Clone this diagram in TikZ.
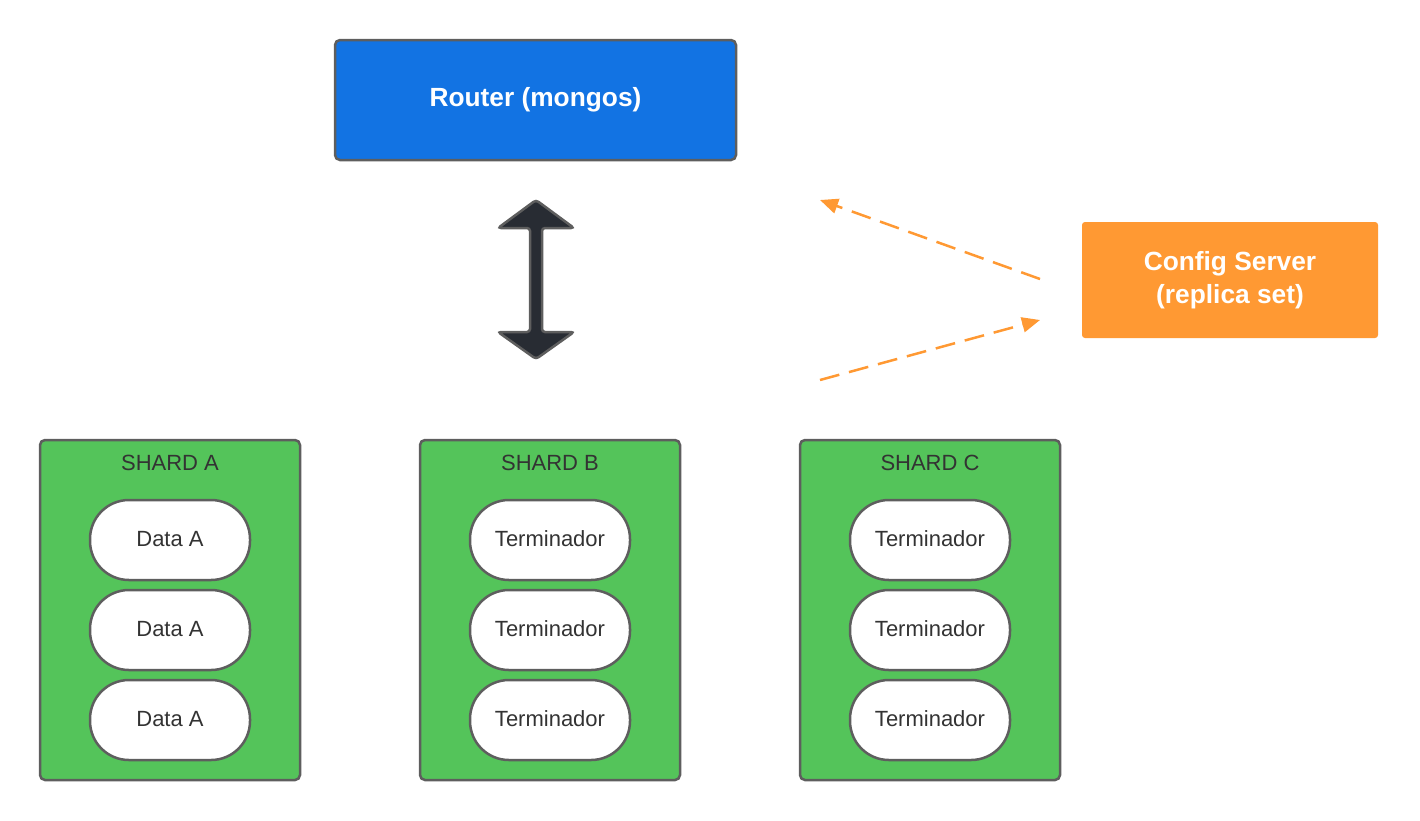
\documentclass[tikz,border=0pt]{standalone}
\usepackage{fontspec}
\setmainfont{Liberation Sans}
\usetikzlibrary{arrows.meta}
\definecolor{rblue}{RGB}{18,115,227}
\definecolor{corange}{RGB}{255,153,51}
\definecolor{sgreen}{RGB}{84,196,90}
\definecolor{bgray}{RGB}{94,94,94}
\definecolor{tdark}{RGB}{51,51,51}
\definecolor{adark}{RGB}{40,44,51}
\tikzset{
  bigbox/.style={draw=bgray, line width=2.5pt, rounded corners=5pt, inner sep=0pt,
    text=white, font=\fontsize{26.3}{33}\selectfont\bfseries, align=center},
  shardbox/.style={draw=bgray, line width=2.5pt, fill=sgreen, rounded corners=5pt,
    minimum width=260pt, minimum height=340pt, inner sep=0pt},
  shardtitle/.style={text=tdark, font=\fontsize{22}{26}\selectfont, inner sep=0pt},
  pill/.style={draw=bgray, line width=2.5pt, fill=white, rounded corners=39pt,
    minimum width=160pt, minimum height=80pt, inner sep=0pt, text=tdark,
    font=\fontsize{22}{26}\selectfont},
  cfgline/.style={draw=corange, line width=2.5pt, dash pattern=on 20pt off 10pt,
    -{Triangle[length=18pt,width=15pt]}}
}
\begin{document}
\begin{tikzpicture}[x=1pt,y=-1pt]
\useasboundingbox (0,0) rectangle (1420,820);
% Router
\node[bigbox, fill=rblue, minimum width=401pt, minimum height=120pt] (router) at (535.5,100) {Router (mongos)};
% Config server
\node[bigbox, draw=none, fill=corange, rounded corners=3pt, minimum width=296pt, minimum height=116pt] (config) at (1230,280) {Config Server\\(replica set)};
% Double arrow
\draw[draw=bgray, fill=adark, line width=2.5pt, rounded corners=3pt]
  (536,200) -- (574,228) -- (542,228) -- (542,332) -- (574,332) -- (536,359)
  -- (498,332) -- (530,332) -- (530,228) -- (498,228) -- cycle;
% Dashed connectors
\coordinate (c1s) at (1040,279);
\coordinate (c1e) at (820,200);
\coordinate (c2s) at (820,380);
\coordinate (c2e) at (1040,320);
\draw[cfgline] (c1s) -- (c1e);
\draw[cfgline] (c2s) -- (c2e);
% Shards
\foreach \n/\cx/\t/\lab in {A/170/A/Data A, B/550/B/Terminador, C/930/C/Terminador}{
  \node[shardbox] (shard\n) at (\cx,610) {};
  \node[shardtitle] (title\n) at (\cx,463) {SHARD \t};
  \node[pill] (p\n1) at (\cx,540) {\raisebox{2pt}{\lab}};
  \node[pill] (p\n2) at (\cx,630) {\raisebox{2pt}{\lab}};
  \node[pill] (p\n3) at (\cx,720) {\raisebox{2pt}{\lab}};
}
\end{tikzpicture}
\end{document}
